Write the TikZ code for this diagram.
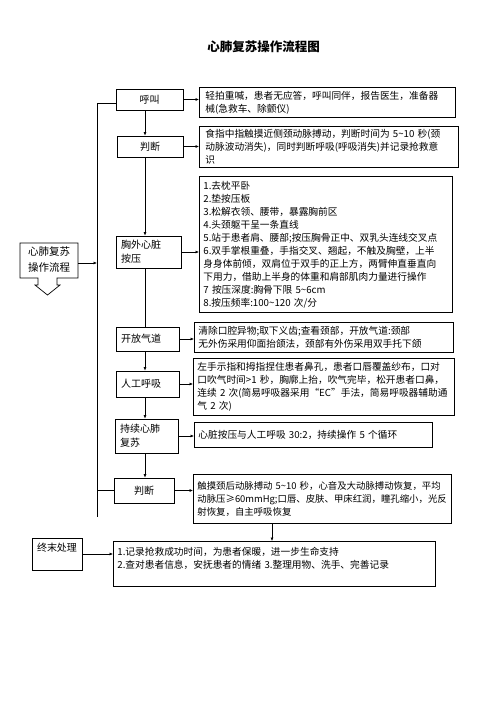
\documentclass[tikz,border=0pt]{standalone}
\usepackage{fontspec}
\setmainfont{Noto Sans CJK SC}
\usetikzlibrary{arrows.meta}

\tikzset{
	lbox/.style={draw, line width=0.7pt, inner sep=0pt, font=\fontsize{10}{14}\selectfont},
	rbox/.style={draw, line width=0.8pt, anchor=north west, align=left, inner xsep=4pt, inner ysep=2pt, font=\fontsize{9.7}{13}\selectfont},
	link/.style={-{Latex[length=3.5pt,width=3pt]}, line width=0.6pt},
	plain/.style={line width=0.6pt}
}

\begin{document}
\begin{tikzpicture}[x=1pt,y=-1pt]
	\useasboundingbox (0,0) rectangle (496,702);
	
	%title
	\node[font=\fontsize{12.5}{15}\selectfont\bfseries] (title) at (263.5,47) {心肺复苏操作流程图};
	
	%left column
	\node[lbox, minimum width=67, minimum height=21] (call) at (149.5,99.5) {呼叫};
	\node[lbox, minimum width=66, minimum height=21] (judgea) at (150,146.5) {判断};
	\node[lbox, minimum width=65, minimum height=32, text width=55, align=left] (chest) at (148.5,252) {胸外心脏\\按压};
	\node[lbox, minimum width=63, minimum height=24, text width=53, align=left] (airway) at (147.5,339) {开放气道};
	\node[lbox, minimum width=63, minimum height=26, text width=53, align=left] (breath) at (147.5,384) {人工呼吸};
	\node[lbox, minimum width=63, minimum height=34, text width=53, align=left] (cycle) at (146.5,436) {持续心肺\\复苏};
	\node[lbox, minimum width=60, minimum height=25] (judgeb) at (144,490.5) {判断};
	\node[lbox, minimum width=50, minimum height=32, align=center] (final) at (57,554) {终末处理\\ \mbox{}};
	
	%start box
	\draw[line width=0.7pt] (20,243) -- (78,243) -- (78,278) -- (57,278) -- (57,285) -- (60,285)
		-- (47.5,295) -- (35,285) -- (38,285) -- (38,278) -- (20,278) -- cycle;
	\node[font=\fontsize{10.5}{16}\selectfont, align=left] (start) at (49,260) {心肺复苏\\操作流程};
	\coordinate (startout) at (78,263);
	
	%right column
	\node[rbox, inner xsep=6pt, text width=244, minimum height=30] (ra) at (199,87)
		{轻拍重喊，患者无应答，呼叫同伴，报告医生，准备器\\械(急救车、除颤仪)};
	\node[rbox, inner xsep=6pt, text width=247, minimum height=41] (rb) at (199,126)
		{食指中指触摸近侧颈动脉搏动，判断时间为~5\textasciitilde 10~秒(颈\\动脉波动消失)，同时判断呼吸(呼吸消失)并记录抢救意\\识};
	\node[rbox, text width=245, minimum height=136] (rc) at (199,176)
		{1.去枕平卧\\2.垫按压板\\3.松解衣领、腰带，暴露胸前区\\4.头颈躯干呈一条直线\\
		5.站于患者肩、腰部;按压胸骨正中、双乳头连线交叉点\\
		6.双手掌根重叠，手指交叉、翘起，不触及胸壁，上半\\
		身身体前倾，双肩位于双手的正上方，两臂伸直垂直向\\
		下用力，借助上半身的体重和肩部肌肉力量进行操作\\
		7~按压深度:胸骨下限~5\textasciitilde 6cm\\8.按压频率:100\textasciitilde 120~次/分};
	\node[rbox, text width=251, minimum height=30] (rd) at (194,322)
		{清除口腔异物;取下义齿;查看颈部，开放气道:颈部\\无外伤采用仰面抬颌法，颈部有外伤采用双手托下颌};
	\node[rbox, text width=253, minimum height=57] (re) at (193,358)
		{左手示指和拇指捏住患者鼻孔，患者口唇覆盖纱布，口对\\口吹气时间>1~秒，胸廓上抬，吹气完毕，松开患者口鼻，\\连续~2~次(简易呼吸器采用“EC”手法，简易呼吸器辅助通\\气~2~次)};
	\node[rbox, text width=230, minimum height=25] (rf) at (194,422)
		{心脏按压与人工呼吸~30:2，持续操作~5~个循环};
	\node[rbox, text width=250, minimum height=49, font=\fontsize{9.4}{13}\selectfont] (rg) at (193,474)
		{触摸颈后动脉搏动~5\textasciitilde 10~秒，心音及大动脉搏动恢复，平均\\动脉压≥60mmHg;口唇、皮肤、甲床红润，瞳孔缩小，光反\\射恢复，自主呼吸恢复};
	\node[rbox, text width=314, minimum height=45] (rh) at (113,541)
		{1.记录抢救成功时间，为患者保暖，进一步生命支持\\2.查对患者信息，安抚患者的情绪~3.整理用物、洗手、完善记录\\ \mbox{}};
	
	%bus line
	\coordinate (bustop) at (97,103);
	\coordinate (busbot) at (97,517);
	\coordinate (col) at (145,0);
	\coordinate (colr) at (272,0);
	\draw[plain] (bustop) -- (busbot);
	\draw[plain] (bustop) -- (bustop -| call.west);
	\draw[plain] (judgeb.west -| bustop) -- (judgeb.west);
	\draw[link] (startout) -- (startout -| bustop);
	
	%down arrows
	\draw[link] (call.south -| col) -- (judgea.north -| col);
	\draw[link] (judgea.south -| col) -- (chest.north -| col);
	\draw[plain] (chest.south -| col) -- (airway.north -| col);
	\draw[link] (airway.south -| col) -- (breath.north -| col);
	\draw[link] (breath.south -| col) -- (cycle.north -| col);
	\draw[link] (cycle.south -| col) -- (judgeb.north -| col);
	\draw[link] (rg.south -| colr) -- (rh.north -| colr);
	
	%right arrows
	\draw[link] (call.east) -- (call.east -| ra.west);
	\draw[link] (judgea.east) -- (judgea.east -| rb.west);
	\draw[link] (chest.east) -- (chest.east -| rc.west);
	\draw[link] (airway.east) -- (airway.east -| rd.west);
	\draw[link] (breath.east) -- (breath.east -| re.west);
	\draw[link] (cycle.east) -- (cycle.east -| rf.west);
	\draw[link] (judgeb.east) -- (judgeb.east -| rg.west);
	\draw[link] (final.east) -- (final.east -| rh.west);
\end{tikzpicture}
\end{document}
